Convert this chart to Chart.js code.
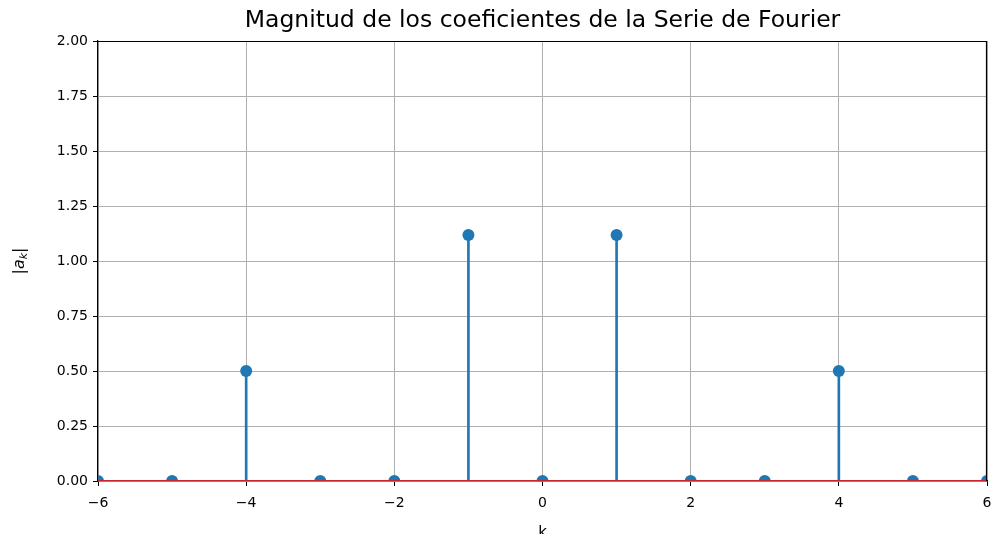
<!DOCTYPE html>
<html>
<head>
<meta charset="utf-8">
<script src="https://cdn.jsdelivr.net/npm/chart.js@4.4.1/dist/chart.umd.min.js"></script>
<style>
html,body{margin:0;padding:0;background:#fff;}
#wrap{width:999px;height:534px;position:relative;}
</style>
</head>
<body>
<div id="wrap"><canvas id="c" width="999" height="534"></canvas></div>
<script>
const kValues = [-6, -5, -4, -3, -2, -1, 0, 1, 2, 3, 4, 5, 6];
const akMagnitude = [0, 0, 0.5, 0, 0, 1.118, 0, 1.118, 0, 0, 0.5, 0, 0];
const xTicks = [-6, -4, -2, 0, 2, 4, 6];
const yTicks = [0, 0.25, 0.5, 0.75, 1, 1.25, 1.5, 1.75, 2];
const titleText = 'Magnitud de los coeficientes de la Serie de Fourier';
const xLabel = 'k';

const pts = kValues.map((k, i) => ({x: k, y: akMagnitude[i]}));
const FONT = '"DejaVu Sans", sans-serif';
const fmt = v => (v < 0 ? '\u2212' + Math.abs(v) : String(v));

const labelsPlugin = {
  id: 'labels',
  afterDraw(chart) {
    const ctx = chart.ctx, a = chart.chartArea;
    ctx.save();
    // frame (top & right spines)
    ctx.strokeStyle = '#000';
    ctx.lineWidth = 1.2;
    ctx.beginPath();
    ctx.moveTo(a.left, a.top + 0.5);
    ctx.lineTo(a.right, a.top + 0.5);
    ctx.moveTo(a.right - 0.5, a.top);
    ctx.lineTo(a.right - 0.5, a.bottom);
    ctx.stroke();

    ctx.fillStyle = '#000';
    ctx.font = '23.5px ' + FONT;
    ctx.textAlign = 'center';
    ctx.textBaseline = 'alphabetic';
    ctx.fillText(titleText, (a.left + a.right) / 2, 27);
    ctx.font = '15px ' + FONT;
    ctx.fillText(xLabel, (a.left + a.right) / 2, 537);
    // y label |a_k|
    ctx.translate(24, (a.top + a.bottom) / 2);
    ctx.rotate(-Math.PI / 2);
    ctx.textAlign = 'left';
    ctx.font = '16px ' + FONT;
    const w1 = ctx.measureText('|').width;
    ctx.font = 'italic 16px ' + FONT;
    const w2 = ctx.measureText('a').width;
    ctx.font = 'italic 11px ' + FONT;
    const w3 = ctx.measureText('k').width;
    const total = w1 + w2 + w3 + w1;
    let x = -total / 2;
    ctx.font = '16px ' + FONT;
    ctx.fillText('|', x, 0); x += w1;
    ctx.font = 'italic 16px ' + FONT;
    ctx.fillText('a', x, 0); x += w2;
    ctx.font = 'italic 11px ' + FONT;
    ctx.fillText('k', x, 3); x += w3;
    ctx.font = '16px ' + FONT;
    ctx.fillText('|', x, 0);
    ctx.restore();
  }
};

new Chart(document.getElementById('c'), {
  data: {
    datasets: [
      {
        type: 'line',
        data: [{x: kValues[0], y: 0}, {x: kValues[kValues.length - 1], y: 0}],
        borderColor: '#c8262a',
        borderWidth: 2,
        pointRadius: 0,
        order: 0
      },
      {
        type: 'scatter',
        data: pts,
        backgroundColor: '#1f77b4',
        borderColor: '#1f77b4',
        pointRadius: 6,
        pointHoverRadius: 6,
        borderWidth: 0,
        order: 1
      },
      {
        type: 'bar',
        data: pts,
        backgroundColor: '#1f77b4',
        barThickness: 2,
        order: 2
      }
    ]
  },
  plugins: [labelsPlugin],
  options: {
    responsive: false,
    animation: false,
    events: [],
    layout: {padding: {top: 41, right: 12, left: 0, bottom: 0}},
    plugins: {legend: {display: false}, tooltip: {enabled: false}, title: {display: false}},
    scales: {
      x: {
        type: 'linear',
        min: -6, max: 6,
        offset: false,
        afterFit(s) { s.height = 53; s.paddingRight = 0; s.paddingLeft = 0; },
        afterBuildTicks(s) { s.ticks = xTicks.map(v => ({value: v})); },
        grid: {color: '#b0b0b0', lineWidth: 1, tickColor: '#000', tickLength: 5, offset: false},
        border: {color: '#000', width: 1.2},
        ticks: {color: '#000', font: {family: FONT, size: 14}, padding: 9, maxRotation: 0, callback: v => fmt(v)}
      },
      y: {
        type: 'linear',
        min: 0, max: 2,
        afterFit(s) { s.width = 98; s.paddingTop = 0; s.paddingBottom = 0; },
        afterBuildTicks(s) { s.ticks = yTicks.map(v => ({value: v})); },
        grid: {color: '#b0b0b0', lineWidth: 1, tickColor: '#000', tickLength: 5},
        border: {color: '#000', width: 1.2},
        ticks: {color: '#000', font: {family: FONT, size: 14}, padding: 5, callback: v => Number(v).toFixed(2)}
      }
    }
  }
});
</script>
</body>
</html>
